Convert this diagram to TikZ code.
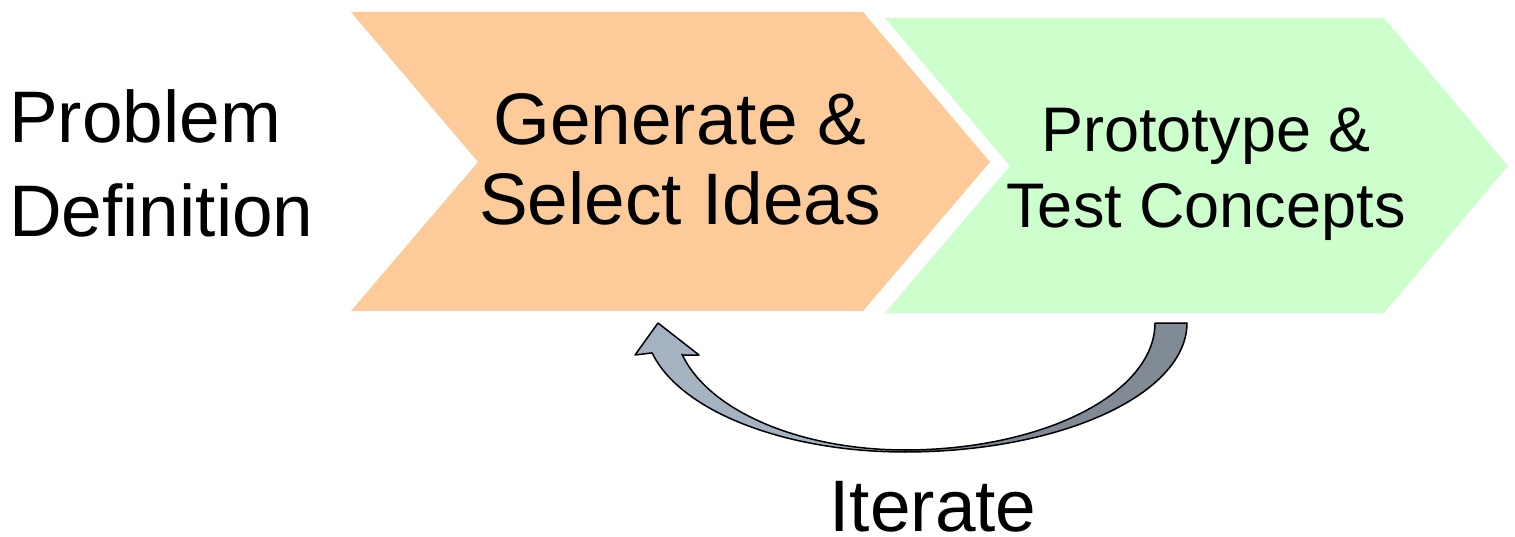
\documentclass[tikz,border=0pt]{standalone}
\usepackage{fontspec}
\setmainfont{Liberation Sans}
\definecolor{orangefill}{RGB}{253,203,153}
\definecolor{greenfill}{RGB}{204,255,204}
\definecolor{arrowlight}{RGB}{164,178,194}
\definecolor{arrowdark}{RGB}{128,139,150}
\tikzset{
  bigtext/.style={inner sep=0pt, font=\fontsize{73}{80}\selectfont},
  midtext/.style={inner sep=0pt, font=\fontsize{63}{70}\selectfont},
  outline/.style={draw=black, line width=1.5pt, line join=round}
}
\begin{document}
\begin{tikzpicture}[x=1pt, y=-1pt]
\useasboundingbox (0,0) rectangle (1515,537);
% chevrons
\fill[orangefill] (351,12) coordinate (o1) -- (863,12) coordinate (o2) -- (990,162) coordinate (otip)
  -- (863,311) coordinate (o3) -- (351,311) coordinate (o4) -- (478,162) coordinate (onotch) -- cycle;
\fill[greenfill] (885,18) coordinate (g1) -- (1384,18) coordinate (g2) -- (1508,166) coordinate (gtip)
  -- (1384,313) coordinate (g3) -- (885,313) coordinate (g4) -- (1010,166) coordinate (gnotch) -- cycle;
% texts
\node[bigtext, anchor=base west] (prob1) at (9,143) {Problem};
\node[bigtext, anchor=base west] (prob2) at (9,237) {Definition};
\node[bigtext, anchor=base] (gen1) at (680,145) {Generate \&};
\node[bigtext, anchor=base] (gen2) at (680,225) {Select Ideas};
\node[midtext, anchor=base] (pro1) at (1206,152) {Prototype \&};
\node[midtext, anchor=base] (pro2) at (1206,228) {Test Concepts};
\node[bigtext, anchor=base] (iter) at (933,531) {Iterate};
% curved arrow: dark right half
\filldraw[fill=arrowdark, outline]
  (1155,323) -- (1187,323)
  -- plot[domain=0:90, samples=40] ({905+282*cos(\x)}, {323+129*sin(\x)})
  -- plot[domain=90:0, samples=40] ({905+250*cos(\x)}, {323+127*sin(\x)})
  -- cycle;
% light left half with head
\filldraw[fill=arrowlight, outline]
  (905,452)
  -- plot[domain=90:166.6, samples=40] ({905+260*cos(\x)}, {323+129*sin(\x)})
  -- (635,355) -- (658,323) -- (699,355) -- (682,355)
  -- plot[domain=165.8:90, samples=40] ({905+230*cos(\x)}, {323+127*sin(\x)})
  -- cycle;
\end{tikzpicture}
\end{document}
